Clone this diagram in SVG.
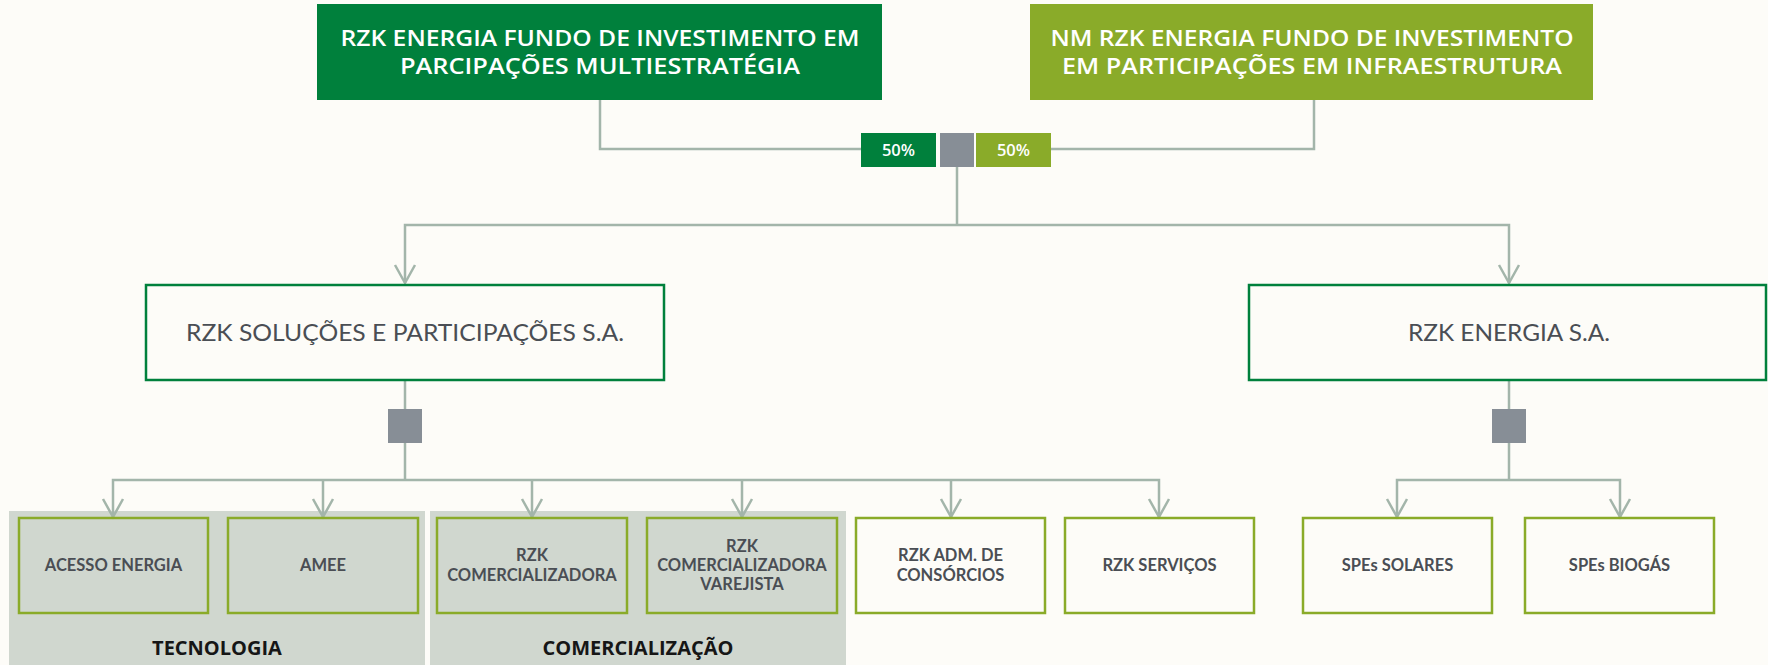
<svg xmlns="http://www.w3.org/2000/svg" width="1768" height="665" viewBox="0 0 1768 665">
<style>
.top{font-family:"Open Sans","Liberation Sans",sans-serif;font-weight:600;font-size:22px;fill:#ffffff;text-anchor:middle}
.pct{font-family:"Open Sans","Liberation Sans",sans-serif;font-weight:600;font-size:16.5px;fill:#ffffff;text-anchor:middle}
.mid{font-family:Lato,"Liberation Sans",sans-serif;font-size:24px;fill:#4a4e54;text-anchor:middle}
.sub{font-family:Lato,"Liberation Sans",sans-serif;font-weight:700;font-size:16.5px;fill:#4a4e54;text-anchor:middle}
.grp{font-family:"Open Sans","Liberation Sans",sans-serif;font-weight:700;font-size:20px;fill:#161616;text-anchor:middle}
.midbox{fill:#fdfcf8;stroke:#00803c;stroke-width:2.5}
.subbox{fill:none;stroke:#8aab29;stroke-width:2.5}
.sq{fill:#878e96}
.con{fill:none;stroke:#a3b5aa;stroke-width:2.5}
</style>
<defs>
<marker id="arr" markerUnits="userSpaceOnUse" markerWidth="26" markerHeight="24" viewBox="-13 -22 26 24" refX="0" refY="0" orient="0" overflow="visible">
<path d="M-10,-18 L0,0 L10,-18" fill="none" stroke="#a3b5aa" stroke-width="2.5"/>
</marker>
</defs>
<rect width="1768" height="665" fill="#fdfcf8"/>

<g id="group-tecnologia">
<rect x="9" y="511" width="416" height="154" fill="#d0d7cf"/>
<text class="grp" x="217" y="655">TECNOLOGIA</text>
</g>
<g id="group-comercializacao">
<rect x="430" y="511" width="416" height="154" fill="#d0d7cf"/>
<text class="grp" x="638" y="655">COMERCIALIZAÇÃO</text>
</g>

<g id="connectors">
<path class="con" d="M600,100 V149 H861"/>
<path class="con" d="M1314,100 V149 H1051"/>
<path class="con" d="M957,167 V225"/>
<path class="con" d="M405,283 V225 H1509 V283" marker-start="url(#arr)" marker-end="url(#arr)"/>
<path class="con" d="M405,380 V409 M405,443 V480"/>
<path class="con" d="M113,517 V480 H1159 V517" marker-start="url(#arr)" marker-end="url(#arr)"/>
<path class="con" d="M323,480 V517" marker-end="url(#arr)"/>
<path class="con" d="M532,480 V517" marker-end="url(#arr)"/>
<path class="con" d="M742,480 V517" marker-end="url(#arr)"/>
<path class="con" d="M951,480 V517" marker-end="url(#arr)"/>
<path class="con" d="M1509,380 V409 M1509,443 V480"/>
<path class="con" d="M1397,517 V480 H1620 V517" marker-start="url(#arr)" marker-end="url(#arr)"/>
</g>

<g id="fund-multiestrategia">
<rect x="317" y="4" width="565" height="96" fill="#00803c"/>
<text class="top" x="600" y="46" textLength="519" lengthAdjust="spacingAndGlyphs">RZK ENERGIA FUNDO DE INVESTIMENTO EM</text>
<text class="top" x="600" y="74" textLength="400" lengthAdjust="spacingAndGlyphs">PARCIPAÇÕES MULTIESTRATÉGIA</text>
</g>
<g id="fund-infraestrutura">
<rect x="1030" y="4" width="563" height="96" fill="#8aab29"/>
<text class="top" x="1312" y="46" textLength="523" lengthAdjust="spacingAndGlyphs">NM RZK ENERGIA FUNDO DE INVESTIMENTO</text>
<text class="top" x="1312" y="74" textLength="500" lengthAdjust="spacingAndGlyphs">EM PARTICIPAÇÕES EM INFRAESTRUTURA</text>
</g>

<g id="pct-left">
<rect x="861" y="133" width="75" height="34" fill="#00803c"/>
<text class="pct" x="898.5" y="156">50%</text>
</g>
<g id="junction-top"><rect class="sq" x="940" y="133" width="34" height="34"/></g>
<g id="pct-right">
<rect x="976" y="133" width="75" height="34" fill="#8aab29"/>
<text class="pct" x="1013.5" y="156">50%</text>
</g>

<g id="rzk-solucoes">
<rect class="midbox" x="146" y="285" width="518" height="95"/>
<text class="mid" x="405" y="341" textLength="438" lengthAdjust="spacingAndGlyphs">RZK SOLUÇÕES E PARTICIPAÇÕES S.A.</text>
</g>
<g id="rzk-energia">
<rect class="midbox" x="1249" y="285" width="517" height="95"/>
<text class="mid" x="1509" y="341" textLength="202" lengthAdjust="spacingAndGlyphs">RZK ENERGIA S.A.</text>
</g>
<g id="junction-left"><rect class="sq" x="388" y="409" width="34" height="34"/></g>
<g id="junction-right"><rect class="sq" x="1492" y="409" width="34" height="34"/></g>

<g id="acesso-energia">
<rect class="subbox" x="19" y="518" width="189" height="95"/>
<text class="sub" x="113.5" y="571">ACESSO ENERGIA</text>
</g>
<g id="amee">
<rect class="subbox" x="228" y="518" width="190" height="95"/>
<text class="sub" x="323" y="571">AMEE</text>
</g>
<g id="rzk-comercializadora">
<rect class="subbox" x="437" y="518" width="190" height="95"/>
<text class="sub" x="532" y="561">RZK</text>
<text class="sub" x="532" y="581">COMERCIALIZADORA</text>
</g>
<g id="rzk-comercializadora-varejista">
<rect class="subbox" x="647" y="518" width="190" height="95"/>
<text class="sub" x="742" y="552">RZK</text>
<text class="sub" x="742" y="571">COMERCIALIZADORA</text>
<text class="sub" x="742" y="590">VAREJISTA</text>
</g>
<g id="rzk-adm-consorcios">
<rect class="subbox" x="856" y="518" width="189" height="95"/>
<text class="sub" x="950.5" y="561">RZK ADM. DE</text>
<text class="sub" x="950.5" y="581">CONSÓRCIOS</text>
</g>
<g id="rzk-servicos">
<rect class="subbox" x="1065" y="518" width="189" height="95"/>
<text class="sub" x="1159.5" y="571">RZK SERVIÇOS</text>
</g>
<g id="spes-solares">
<rect class="subbox" x="1303" y="518" width="189" height="95"/>
<text class="sub" x="1397.5" y="571">SPEs SOLARES</text>
</g>
<g id="spes-biogas">
<rect class="subbox" x="1525" y="518" width="189" height="95"/>
<text class="sub" x="1619.5" y="571">SPEs BIOGÁS</text>
</g>
</svg>
